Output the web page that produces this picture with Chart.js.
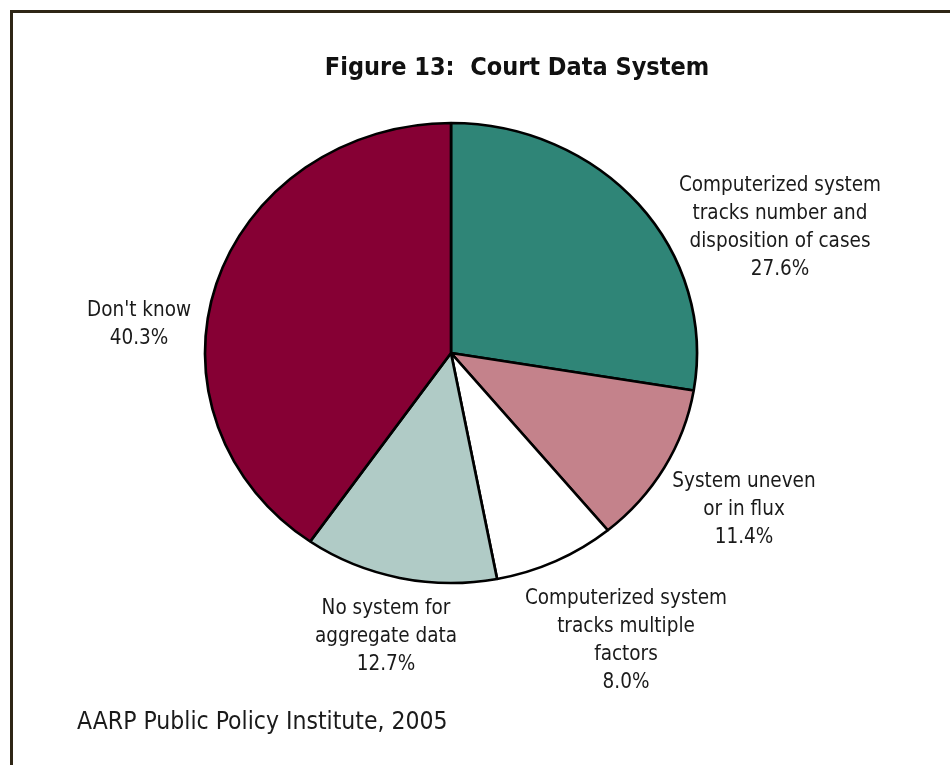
<!DOCTYPE html>
<html>
<head>
<meta charset="utf-8">
<script src="https://cdn.jsdelivr.net/npm/chart.js@4.4.1/dist/chart.umd.min.js"></script>
<style>
  html, body { margin: 0; padding: 0; background: #ffffff; }
  #wrap { position: relative; width: 950px; height: 765px; }
</style>
</head>
<body>
<div id="wrap"><canvas id="c" width="950" height="765"></canvas></div>
<script>
// ---- data ----
const chartTitle = "Figure 13:  Court Data System";
const sourceNote = "AARP Public Policy Institute, 2005";
const categories = [
  ["Computerized system", "tracks number and", "disposition of cases"],
  ["System uneven", "or in flux"],
  ["Computerized system", "tracks multiple", "factors"],
  ["No system for", "aggregate data"],
  ["Don't know"]
];
const values = [27.6, 11.4, 8.0, 12.7, 40.3];
const sliceColors = ["#2f8577", "#c4828b", "#ffffff", "#b0cbc6", "#860034"];

// ---- layout (positions of label blocks, centre x / first line y) ----
const labelAnchors = [
  { x: 780, y: 186 },
  { x: 744, y: 482 },
  { x: 626, y: 599 },
  { x: 386, y: 609 },
  { x: 139, y: 311 }
];
const lineGap = 28;
const ellipseX = 246 / 230;

const labelFont = '20.5px "Liberation Sans Narrow", "DejaVu Sans Condensed", sans-serif';
const titleFont = 'bold 25px "Liberation Sans Narrow", "DejaVu Sans Condensed", sans-serif';
const sourceFont = '24.5px "Liberation Sans Narrow", "DejaVu Sans Condensed", sans-serif';

const decor = {
  id: 'decor',
  beforeDraw(chart) {
    const ctx = chart.ctx;
    ctx.save();
    ctx.fillStyle = '#ffffff';
    ctx.fillRect(0, 0, chart.width, chart.height);
    ctx.strokeStyle = '#2e2616';
    ctx.lineWidth = 3;
    ctx.beginPath();
    ctx.moveTo(10, 11.5); ctx.lineTo(950, 11.5);
    ctx.moveTo(11.5, 10); ctx.lineTo(11.5, 765);
    ctx.stroke();
    ctx.restore();
  },
  beforeDatasetsDraw(chart) {
    const arc = chart.getDatasetMeta(0).data[0];
    const ctx = chart.ctx;
    ctx.save();
    ctx.translate(arc.x, arc.y);
    ctx.scale(ellipseX, 1);
    ctx.translate(-arc.x, -arc.y);
  },
  afterDatasetsDraw(chart) {
    chart.ctx.restore();
  },
  afterDraw(chart) {
    const ctx = chart.ctx;
    ctx.save();
    ctx.fillStyle = '#111111';
    ctx.textAlign = 'center';
    ctx.textBaseline = 'middle';
    ctx.font = titleFont;
    ctx.fillText(chartTitle, 517, 68);
    ctx.font = labelFont;
    ctx.fillStyle = '#1a1a1a';
    categories.forEach((lines, i) => {
      const all = lines.concat([values[i].toFixed(1) + '%']);
      const a = labelAnchors[i];
      all.forEach((t, k) => ctx.fillText(t, a.x, a.y + k * lineGap));
    });
    ctx.textAlign = 'left';
    ctx.font = sourceFont;
    ctx.fillText(sourceNote, 77, 723);
    ctx.restore();
  }
};

new Chart(document.getElementById('c'), {
  type: 'pie',
  data: {
    labels: categories.map(l => l.join(' ')),
    datasets: [{
      data: values,
      backgroundColor: sliceColors,
      borderColor: '#000000',
      borderWidth: 2.5
    }]
  },
  options: {
    responsive: false,
    animation: false,
    radius: 230,
    layout: { padding: { left: 0, right: 48, top: 0, bottom: 59 } },
    plugins: {
      legend: { display: false },
      title: { display: false },
      tooltip: { enabled: false }
    }
  },
  plugins: [decor]
});
</script>
</body>
</html>
